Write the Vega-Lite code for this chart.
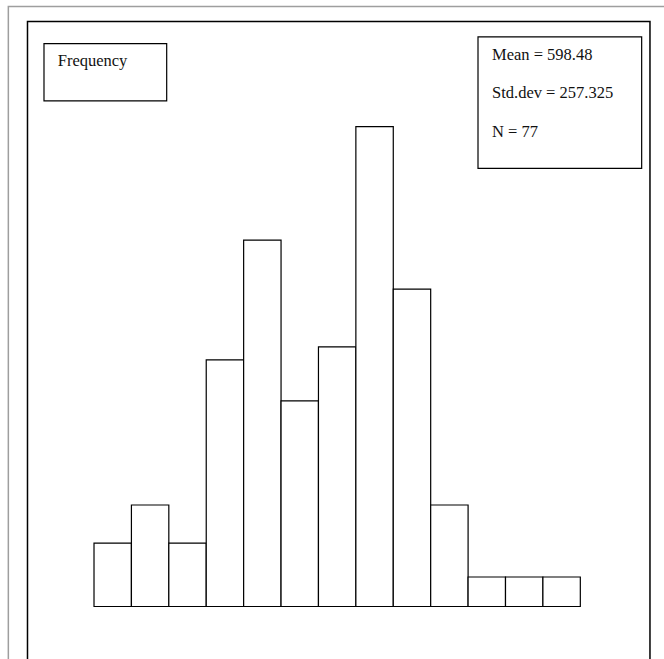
{
  "$schema": "https://vega.github.io/schema/vega-lite/v6.json",
  "width": 664,
  "height": 659,
  "autosize": {"type": "fit", "contains": "padding"},
  "padding": 0,
  "background": "white",
  "config": {"view": {"stroke": null}},
  "datasets": {
    "bins": [
      {"bin_start": 0, "bin_end": 100, "frequency": 2.15},
      {"bin_start": 100, "bin_end": 200, "frequency": 3.44},
      {"bin_start": 200, "bin_end": 300, "frequency": 2.15},
      {"bin_start": 300, "bin_end": 400, "frequency": 8.36},
      {"bin_start": 400, "bin_end": 500, "frequency": 12.42},
      {"bin_start": 500, "bin_end": 600, "frequency": 6.97},
      {"bin_start": 600, "bin_end": 700, "frequency": 8.8},
      {"bin_start": 700, "bin_end": 800, "frequency": 16.27},
      {"bin_start": 800, "bin_end": 900, "frequency": 10.76},
      {"bin_start": 900, "bin_end": 1000, "frequency": 3.44},
      {"bin_start": 1000, "bin_end": 1100, "frequency": 1},
      {"bin_start": 1100, "bin_end": 1200, "frequency": 1},
      {"bin_start": 1200, "bin_end": 1300, "frequency": 1}
    ],
    "outer": [{"x1": -229, "x2": 1800, "y1": -5, "y2": 20.34}],
    "frame": [{"x1": -177.8, "x2": 1486.2, "y1": -5, "y2": 19.83}],
    "boxes": [
      {"x1": -133.7, "x2": 194.3, "y1": 17.14, "y2": 19.08},
      {"x1": 1026.5, "x2": 1464.0, "y1": 14.85, "y2": 19.31}
    ],
    "labels": [
      {"x": -97.0, "y": 18.32, "label": "Frequency"},
      {"x": 1063.9, "y": 18.53, "label": "Mean = 598.48"},
      {"x": 1063.9, "y": 17.23, "label": "Std.dev = 257.325"},
      {"x": 1063.9, "y": 15.93, "label": "N = 77"}
    ]
  },
  "layer": [
    {
      "data": {"name": "outer"},
      "mark": {"type": "rect", "fill": null, "fillOpacity": 0, "stroke": "#9e9e9e", "strokeWidth": 1.5, "clip": true},
      "encoding": {
        "x": {"field": "x1", "type": "quantitative", "axis": null, "scale": {"domain": [-251.3, 1523.7], "nice": false, "zero": false}},
        "x2": {"field": "x2"},
        "y": {"field": "y1", "type": "quantitative", "axis": null, "scale": {"domain": [-1.78, 20.56], "nice": false, "zero": false}},
        "y2": {"field": "y2"}
      }
    },
    {
      "data": {"name": "frame"},
      "mark": {"type": "rect", "fill": null, "fillOpacity": 0, "stroke": "#000000", "strokeWidth": 1.5, "clip": true},
      "encoding": {
        "x": {"field": "x1", "type": "quantitative", "axis": null, "scale": {"domain": [-251.3, 1523.7], "nice": false, "zero": false}},
        "x2": {"field": "x2"},
        "y": {"field": "y1", "type": "quantitative", "axis": null, "scale": {"domain": [-1.78, 20.56], "nice": false, "zero": false}},
        "y2": {"field": "y2"}
      }
    },
    {
      "data": {"name": "bins"},
      "mark": {"type": "rect", "fill": "white", "stroke": "#000000", "strokeWidth": 1.2},
      "encoding": {
        "x": {"field": "bin_start", "type": "quantitative", "axis": null, "scale": {"domain": [-251.3, 1523.7], "nice": false, "zero": false}},
        "x2": {"field": "bin_end"},
        "y": {"field": "frequency", "type": "quantitative", "axis": null, "scale": {"domain": [-1.78, 20.56], "nice": false, "zero": false}},
        "y2": {"datum": 0}
      }
    },
    {
      "data": {"name": "boxes"},
      "mark": {"type": "rect", "fill": "white", "stroke": "#000000", "strokeWidth": 1.2},
      "encoding": {
        "x": {"field": "x1", "type": "quantitative", "axis": null, "scale": {"domain": [-251.3, 1523.7], "nice": false, "zero": false}},
        "x2": {"field": "x2"},
        "y": {"field": "y1", "type": "quantitative", "axis": null, "scale": {"domain": [-1.78, 20.56], "nice": false, "zero": false}},
        "y2": {"field": "y2"}
      }
    },
    {
      "data": {"name": "labels"},
      "mark": {"type": "text", "align": "left", "baseline": "alphabetic", "font": "Liberation Serif", "fontSize": 16.5, "color": "#111111"},
      "encoding": {
        "x": {"field": "x", "type": "quantitative", "axis": null, "scale": {"domain": [-251.3, 1523.7], "nice": false, "zero": false}},
        "y": {"field": "y", "type": "quantitative", "axis": null, "scale": {"domain": [-1.78, 20.56], "nice": false, "zero": false}},
        "text": {"field": "label"}
      }
    }
  ]
}
